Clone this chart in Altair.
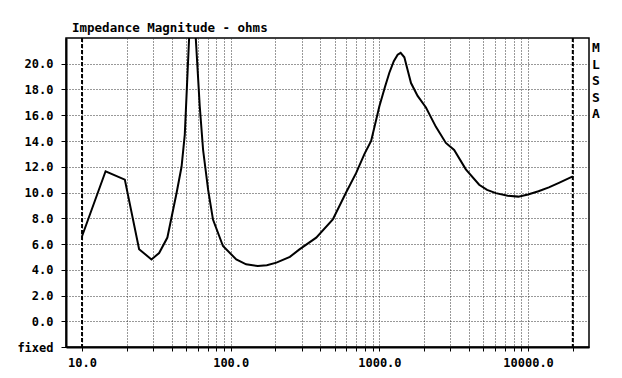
import altair as alt
import pandas as pd

# Impedance curve (frequency in Hz, impedance in ohms)
freq = [10, 14.4, 19.4, 24.2, 29.3, 33, 37.5, 43.3, 46.7, 49.1, 52.5, 56, 58.2,
        61.9, 65.2, 70.5, 76, 88.7, 109, 127, 152, 175, 203, 250, 290, 376, 486,
        597, 697, 794, 880, 1000, 1090, 1167, 1250, 1327, 1390, 1472, 1550, 1632,
        1808, 2057, 2400, 2800, 3184, 3815, 4690, 5300, 6070, 7300, 8600, 10000,
        11750, 13800, 16130, 20000]
ohms = [6.6, 11.65, 11.0, 5.6, 4.8, 5.3, 6.5, 10.0, 12.0, 14.5, 22.0, 30.0, 22.0,
        16.7, 13.3, 10.2, 7.9, 5.84, 4.8, 4.42, 4.3, 4.35, 4.55, 5.0, 5.58, 6.49,
        7.9, 10.0, 11.5, 13.0, 14.0, 16.7, 18.2, 19.3, 20.2, 20.7, 20.85, 20.5,
        19.5, 18.5, 17.5, 16.6, 15.1, 13.85, 13.3, 11.8, 10.6, 10.2, 9.95, 9.75,
        9.68, 9.85, 10.1, 10.4, 10.75, 11.25]

# Axis values
x_grid = [10, 20, 30, 40, 50, 60, 70, 80, 90,
          100, 200, 300, 400, 500, 600, 700, 800, 900,
          1000, 2000, 3000, 4000, 5000, 6000, 7000, 8000, 9000,
          10000, 20000]
x_labeled = [10, 100, 1000, 10000]
y_ticks = [-2, 0, 2, 4, 6, 8, 10, 12, 14, 16, 18, 20]
limit_freqs = [10, 20000]
side_letters = ["M", "L", "S", "S", "A"]
title_text = "Impedance Magnitude - ohms"

FONT = "DejaVu Sans Mono"
W, H = 523, 309

df = pd.DataFrame({"f": freq, "z": ohms})
df_lim = pd.DataFrame({"f": limit_freqs})

xscale = alt.Scale(type="log", domain=[7.8, 25700], nice=False)
yscale = alt.Scale(domain=[-2, 22], nice=False, zero=False)

lab_arr = "[" + ",".join(str(v) for v in x_labeled) + "]"

xaxis = alt.Axis(
    values=x_grid, title=None, grid=True, gridDash=[1, 2], gridColor="#333",
    gridWidth=1, domain=True, domainColor="black", domainWidth=2,
    ticks=True, tickSize=4, tickColor="black",
    labelExpr=f"indexof({lab_arr}, datum.value) >= 0 ? format(datum.value, '.1f') : ''",
    labelFont=FONT, labelFontWeight="bold", labelFontSize=12, labelColor="black",
    labelPadding=6, labelFlush=False, labelOverlap=False,
)
yaxis = alt.Axis(
    values=y_ticks, title=None, grid=True, gridDash=[1, 2], gridColor="#333",
    gridWidth=1, domain=True, domainColor="black", domainWidth=2,
    ticks=True, tickSize=5, tickColor="black",
    labelExpr="datum.value < -1 ? 'fixed' : format(datum.value, '.1f')",
    labelFont=FONT, labelFontWeight="bold", labelFontSize=12, labelColor="black",
    labelPadding=8, labelFlush=False, labelOverlap=False,
)

line = alt.Chart(df).mark_line(color="black", strokeWidth=2, clip=True).encode(
    x=alt.X("f:Q", scale=xscale, axis=xaxis),
    y=alt.Y("z:Q", scale=yscale, axis=yaxis),
    order="f:Q",
)

limits = alt.Chart(df_lim).mark_rule(
    color="black", strokeWidth=2, strokeDash=[4, 2]
).encode(x=alt.X("f:Q", scale=xscale))

side = alt.Chart(pd.DataFrame({"t": ["\n".join(side_letters)]})).mark_text(
    lineBreak="\n", align="left", baseline="top", font=FONT, fontWeight="bold",
    fontSize=13, lineHeight=16.5, color="black",
).encode(x=alt.value(W + 3), y=alt.value(4), text="t:N")

chart = alt.layer(limits, line, side).properties(
    width=W, height=H,
    title=alt.TitleParams(
        text=title_text, anchor="start", frame="group", dx=6, offset=3,
        font=FONT, fontSize=12.5, fontWeight="bold", color="black",
    ),
    autosize=alt.AutoSizeParams(type="none"),
    padding={"left": 58, "top": 30, "right": 25, "bottom": 22},
    background="white",
).configure_view(stroke="black", strokeWidth=1.5)

chart.save("out.html", embed_options={"renderer": "svg", "actions": False})
